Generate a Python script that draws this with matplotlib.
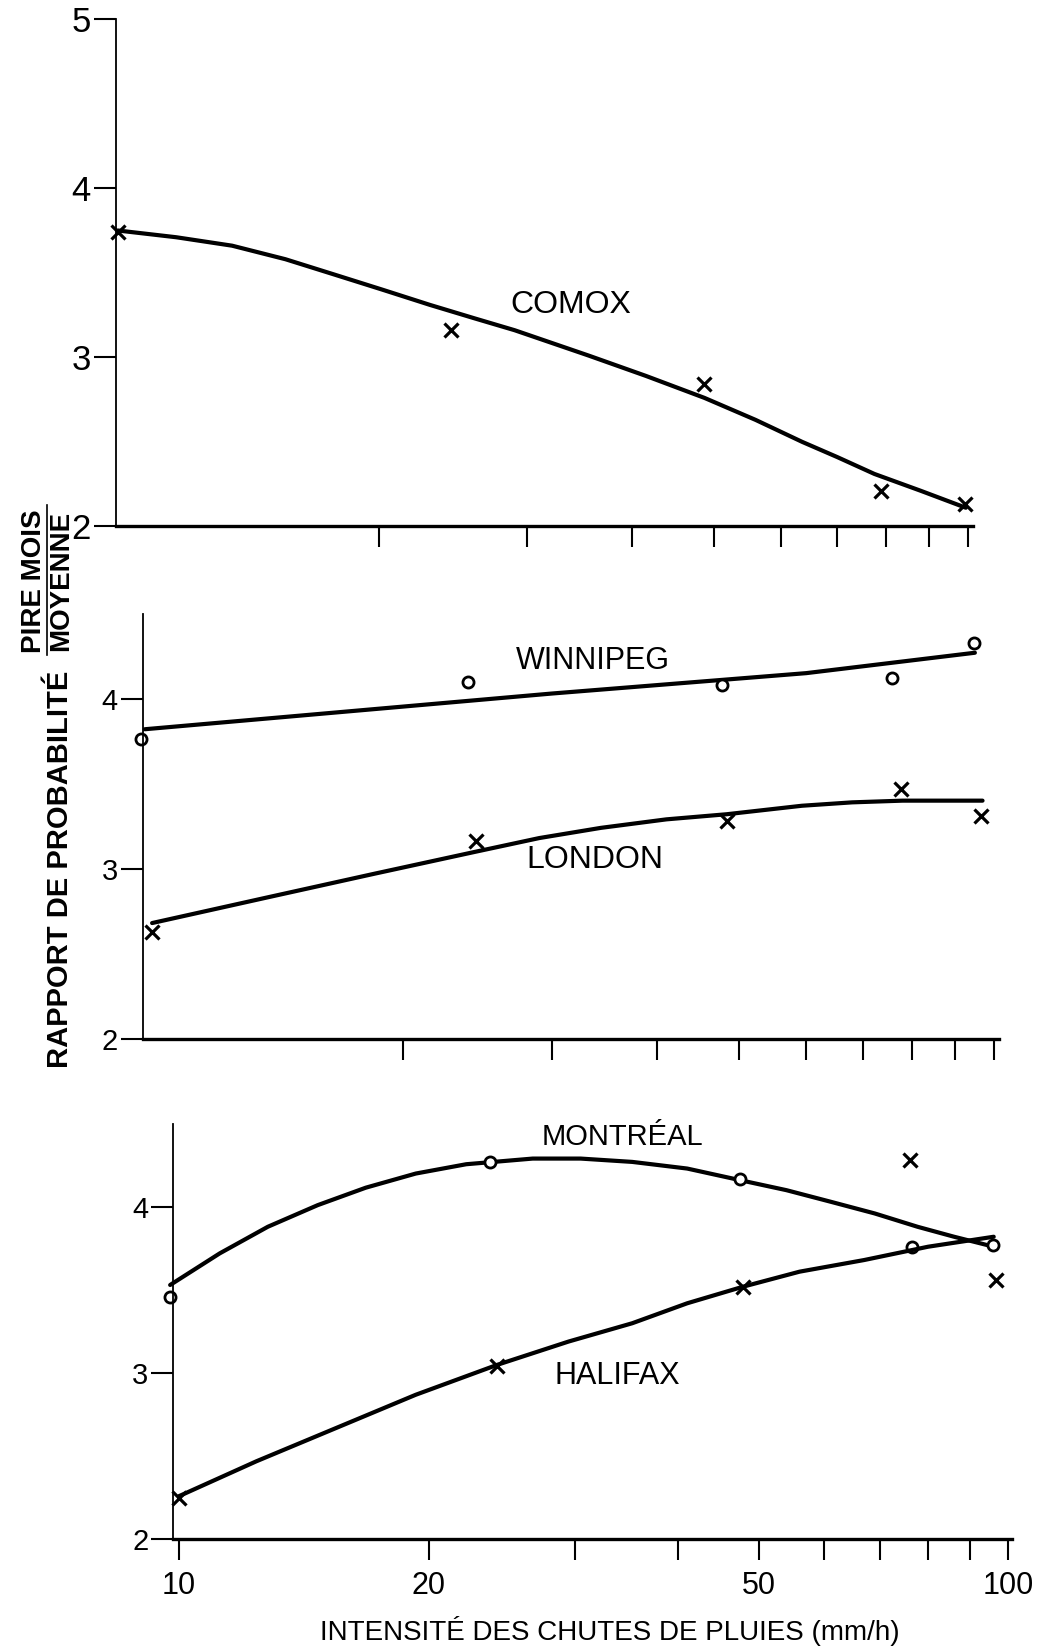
import numpy as np
import matplotlib.pyplot as plt
from matplotlib.lines import Line2D

plt.rcParams['font.family'] = 'Liberation Sans'

# COMOX
comox_px = [9.8, 24.4, 48.7, 79, 99.4]
comox_py = [3.74, 3.16, 2.84, 2.21, 2.13]
comox_cx = [9.8, 11.5, 13.4, 15.5, 17.7, 20.2, 23, 26, 29, 35.5, 41.5, 48.7, 56, 63.6, 70, 77.5, 88, 99.5]
comox_cy = [3.75, 3.71, 3.66, 3.58, 3.49, 3.40, 3.31, 3.23, 3.16, 3.01, 2.89, 2.76, 2.63, 2.50, 2.41, 2.31, 2.21, 2.11]

# WINNIPEG et LONDON
winn_px = [9.8, 23.9, 47.7, 75.9, 94.8]
winn_py = [3.76, 4.10, 4.08, 4.12, 4.33]
winn_cx = [9.9, 30, 60, 95]
winn_cy = [3.82, 4.03, 4.15, 4.27]

lond_px = [10.1, 24.4, 48.3, 77.7, 96.5]
lond_py = [2.63, 3.16, 3.28, 3.47, 3.31]
lond_cx = [10.1, 13.8, 18.5, 24.4, 29, 34.3, 41, 48.3, 59.3, 68, 78, 97]
lond_cy = [2.68, 2.83, 2.97, 3.10, 3.18, 3.24, 3.29, 3.32, 3.37, 3.39, 3.40, 3.40]

# MONTREAL et HALIFAX
mont_px = [9.76, 23.7, 47.5, 76.5, 95.7]
mont_py = [3.46, 4.27, 4.17, 3.76, 3.77]
mont_cx = [9.76, 11.2, 12.8, 14.7, 16.8, 19.3, 22.2, 26.7, 30.5, 35.2, 41, 47.5, 54, 61.1, 69, 77.7, 86, 96]
mont_cy = [3.53, 3.72, 3.88, 4.01, 4.115, 4.2, 4.256, 4.29, 4.29, 4.27, 4.23, 4.16, 4.10, 4.03, 3.96, 3.88, 3.82, 3.76]

hali_px = [10, 24.2, 47.9, 76, 96.5]
hali_py = [2.25, 3.04, 3.52, 4.28, 3.56]
hali_cx = [10, 12.4, 15.3, 19.3, 24.2, 29.5, 35.2, 41, 47.9, 56, 67, 80, 96]
hali_cy = [2.26, 2.47, 2.66, 2.87, 3.05, 3.19, 3.30, 3.42, 3.52, 3.61, 3.68, 3.76, 3.82]

yticks_top = [2, 3, 4, 5]
yticks_low = [2, 3, 4]
xmaj = [10, 20, 50, 100]
xmin = [30, 40, 60, 70, 80, 90]
xall = [20, 30, 40, 50, 60, 70, 80, 90, 100]

fig = plt.figure(figsize=(10.43, 16.5), dpi=100)


def panel(rect, xlim, ylim, yticks, ysize):
    ax = fig.add_axes(rect)
    ax.set_xscale('log')
    ax.set_xlim(*xlim)
    ax.set_ylim(*ylim)
    for s in ['top', 'right']:
        ax.spines[s].set_visible(False)
    ax.spines['left'].set_linewidth(1.3)
    ax.spines['bottom'].set_linewidth(2.4)
    ax.set_yticks(yticks)
    ax.set_yticklabels([str(v) for v in yticks], fontsize=ysize)
    ax.tick_params(axis='y', length=16, width=1.5, pad=2)
    ax.tick_params(axis='x', which='both', length=15, width=1.5, direction='out')
    return ax


def trace(ax, cx, cy, px, py, marker):
    ax.plot(cx, cy, color='black', lw=3.0, solid_capstyle='round',
            solid_joinstyle='round', clip_on=False)
    if marker == 'x':
        ax.plot(px, py, 'x', color='black', ms=10, mew=2.3, clip_on=False)
    else:
        ax.plot(px, py, 'o', mfc='white', mec='black', ms=8, mew=2.0, clip_on=False)


# Panneau du haut
ax1 = panel([0.111, 0.681, 0.822, 0.3074], (9.75, 101.5), (2, 5), yticks_top, 25)
trace(ax1, comox_cx, comox_cy, comox_px, comox_py, 'x')
ax1.set_xticks(xall)
ax1.set_xticklabels([])
ax1.xaxis.set_minor_locator(plt.NullLocator())
ax1.text(28.7, 3.31, 'COMOX', fontsize=23, ha='left', va='center')

# Panneau du milieu
ax2 = panel([0.137, 0.3705, 0.821, 0.2576], (9.85, 101.5), (2, 4.5), yticks_low, 21)
trace(ax2, winn_cx, winn_cy, winn_px, winn_py, 'o')
trace(ax2, lond_cx, lond_cy, lond_px, lond_py, 'x')
ax2.set_xticks(xall)
ax2.set_xticklabels([])
ax2.xaxis.set_minor_locator(plt.NullLocator())
ax2.text(27.2, 4.22, 'WINNIPEG', fontsize=22, ha='left', va='center')
ax2.text(28, 3.05, 'LONDON', fontsize=23, ha='left', va='center')

# Panneau du bas
ax3 = panel([0.1663, 0.067, 0.804, 0.252], (9.85, 101), (2, 4.5), yticks_low, 21)
trace(ax3, mont_cx, mont_cy, mont_px, mont_py, 'o')
trace(ax3, hali_cx, hali_cy, hali_px, hali_py, 'x')
ax3.set_xticks(xmaj)
ax3.set_xticklabels([str(v) for v in xmaj], fontsize=22)
ax3.set_xticks(xmin, minor=True)
ax3.xaxis.set_minor_formatter(plt.NullFormatter())
ax3.tick_params(axis='x', which='major', pad=8)
ax3.text(27.4, 4.42, 'MONTRÉAL', fontsize=21, ha='left', va='center')
ax3.text(28.4, 2.98, 'HALIFAX', fontsize=22, ha='left', va='center')

# Titres des axes
fig.text(0.585, 0.0115, 'INTENSITÉ DES CHUTES DE PLUIES (mm/h)', fontsize=20,
         ha='center', va='center')
fig.text(0.058, 0.473, 'RAPPORT DE PROBABILITÉ', fontsize=21, fontweight='bold',
         rotation=90, ha='center', va='center')
fig.text(0.033, 0.648, 'PIRE MOIS', fontsize=20, fontweight='bold',
         rotation=90, ha='center', va='center')
fig.text(0.059, 0.648, 'MOYENNE', fontsize=20, fontweight='bold',
         rotation=90, ha='center', va='center')
fig.add_artist(Line2D([0.045, 0.045], [0.603, 0.694], color='black', lw=1.2,
                      transform=fig.transFigure))

fig.savefig('out.png', dpi=100)
